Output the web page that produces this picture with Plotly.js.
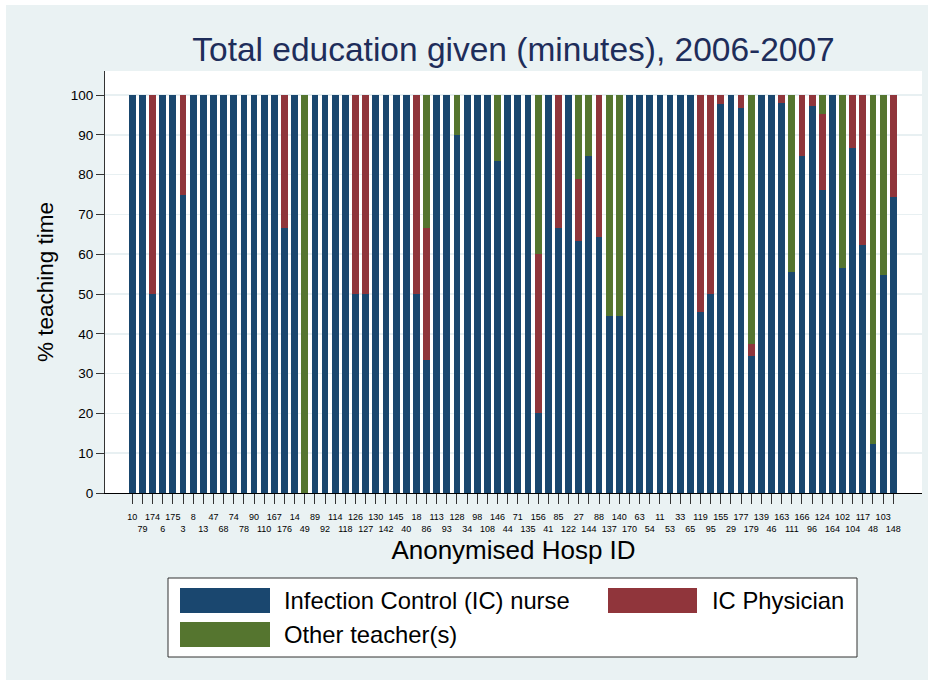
<!DOCTYPE html>
<html>
<head>
<meta charset="utf-8">
<script src="https://cdn.plot.ly/plotly-3.0.1.min.js"></script>
<style>html,body{margin:0;padding:0;background:#fff;}#chart{width:934px;height:684px;}</style>
</head>
<body>
<div id="chart"></div>
<script>
// Anonymised hospital IDs, in plotted order
var hospIds = ['10','79','174','6','175','3','8','13','47','68','74','78','90','110','167','176','14','49','89','92',
  '114','118','126','127','130','142','145','40','18','86','113','93','128','34','98','108','146','44','71','135',
  '156','41','85','122','27','144','88','137','140','170','63','54','11','53','33','65','119','95','155','29',
  '177','179','139','46','163','111','166','96','124','164','102','104','117','48','103','148'];

// % teaching time by Infection Control (IC) nurse
var nurse = [100,100,50,100,100,75,100,100,100,100,100,100,100,100,100,66.7,100,0,100,100,
  100,100,50,50,100,100,100,100,50,33.3,100,100,90,100,100,100,83.3,100,100,100,
  20,100,66.7,100,63.2,84.6,64.3,44.4,44.4,100,100,100,100,100,100,100,45.5,50,97.8,100,
  96.8,34.4,100,100,98.1,55.6,84.8,97.3,76.2,100,56.5,86.8,62.2,12.2,54.8,74.3];

// % teaching time by IC Physician
var physician = [0,0,50,0,0,25,0,0,0,0,0,0,0,0,0,33.3,0,0,0,0,
  0,0,50,50,0,0,0,0,50,33.3,0,0,0,0,0,0,0,0,0,0,
  40,0,33.3,0,15.8,0,35.7,0,0,0,0,0,0,0,0,0,54.5,50,2.2,0,
  3.2,3.1,0,0,1.9,0,15.2,2.7,19.0,0,0,13.2,37.8,0,0,25.7];

// % teaching time by Other teacher(s)
var other = [0,0,0,0,0,0,0,0,0,0,0,0,0,0,0,0,0,100,0,0,
  0,0,0,0,0,0,0,0,0,33.4,0,0,10,0,0,0,16.7,0,0,0,
  40,0,0,0,21.0,15.4,0,55.6,55.6,0,0,0,0,0,0,0,0,0,0,0,
  0,62.5,0,0,0,44.4,0,0,4.8,0,43.5,0,0,87.8,45.2,0];

var yTicks = [0,10,20,30,40,50,60,70,80,90,100];

var seriesNames = ['Infection Control (IC) nurse','IC Physician','Other teacher(s)'];
var colors = ['#1a476f','#90353b','#55752f'];

// two-row tick labels (alternate rows)
var tickText = hospIds.map(function(id,i){ return i % 2 === 0 ? id : '\u00a0<br>' + id; });

var traces = [nurse, physician, other].map(function(vals, k){
  return {type:'bar', x:hospIds, y:vals, name:seriesNames[k],
    marker:{color:colors[k], line:{width:0}}, hoverinfo:'x+y+name'};
});

// plot area pixel geometry helpers
var L = 105, R = 922, T = 71, B = 493;
function px(x){ return (x - L)/(R - L); }
function py(y){ return (B - y)/(B - T); }

var shapes = [
  {type:'rect', xref:'paper', yref:'paper', x0:px(6), x1:px(928), y0:py(5), y1:py(680), fillcolor:'#eaf2f3', line:{width:0}, layer:'below'},
  {type:'rect', xref:'paper', yref:'paper', x0:0, x1:1, y0:0, y1:1, fillcolor:'#ffffff', line:{width:0}, layer:'below'},
  {type:'rect', xref:'paper', yref:'paper', x0:px(168), x1:px(857), y0:py(578), y1:py(657), fillcolor:'#ffffff', line:{color:'#333333', width:1}, layer:'above'},
  {type:'rect', xref:'paper', yref:'paper', x0:px(180), x1:px(270), y0:py(588), y1:py(613), fillcolor:colors[0], line:{width:0}, layer:'above'},
  {type:'rect', xref:'paper', yref:'paper', x0:px(608), x1:px(697), y0:py(588), y1:py(613), fillcolor:colors[1], line:{width:0}, layer:'above'},
  {type:'rect', xref:'paper', yref:'paper', x0:px(180), x1:px(270), y0:py(622), y1:py(647), fillcolor:colors[2], line:{width:0}, layer:'above'}
];

var legFont = {family:'Liberation Sans, Arial, sans-serif', size:23.8, color:'#000'};
var annotations = [
  {xref:'paper', yref:'paper', x:px(282), y:py(600.5), xanchor:'left', yanchor:'middle', text:seriesNames[0], showarrow:false, font:legFont},
  {xref:'paper', yref:'paper', x:px(710), y:py(600.5), xanchor:'left', yanchor:'middle', text:seriesNames[1], showarrow:false, font:legFont},
  {xref:'paper', yref:'paper', x:px(282), y:py(634.5), xanchor:'left', yanchor:'middle', text:seriesNames[2], showarrow:false, font:legFont}
];

var layout = {
  width:934, height:684,
  margin:{l:L, r:934-R, t:T, b:684-B, pad:0},
  paper_bgcolor:'#ffffff', plot_bgcolor:'#ffffff',
  font:{family:'Liberation Sans, Arial, sans-serif', color:'#000'},
  barmode:'stack', bargap:0.33, showlegend:false,
  title:{text:'Total education given (minutes), 2006-2007', x:0.5, xref:'paper', xanchor:'center',
    y:1-49/684, yref:'container', yanchor:'middle',
    font:{family:'Liberation Sans, Arial, sans-serif', size:33.5, color:'#1e2d5a'}},
  xaxis:{type:'category', range:[-2.69, 77.83], tickmode:'array', tickvals:hospIds, ticktext:tickText,
    tickangle:0, tickfont:{size:9, color:'#000'}, ticks:'outside', ticklen:10, tickwidth:1, tickcolor:'#333',
    ticklabelstandoff:5,
    showline:true, linecolor:'#000', linewidth:1, showgrid:false, zeroline:false,
    title:{text:'Anonymised Hosp ID', font:{size:26, color:'#000'}, standoff:8}},
  yaxis:{range:[0, 106.03], tickmode:'array', tickvals:yTicks, ticktext:yTicks.map(String),
    tickfont:{size:13.5, color:'#000'}, ticks:'outside', ticklen:8, tickwidth:1, tickcolor:'#333',
    showline:true, linecolor:'#333', linewidth:1, showgrid:true, gridcolor:'#e8f0f2', gridwidth:1.5, zeroline:false,
    title:{text:'% teaching time', font:{size:22.5, color:'#000'}, standoff:10}},
  shapes:shapes, annotations:annotations
};

Plotly.newPlot('chart', traces, layout, {displayModeBar:false, staticPlot:true});
</script>
</body>
</html>
